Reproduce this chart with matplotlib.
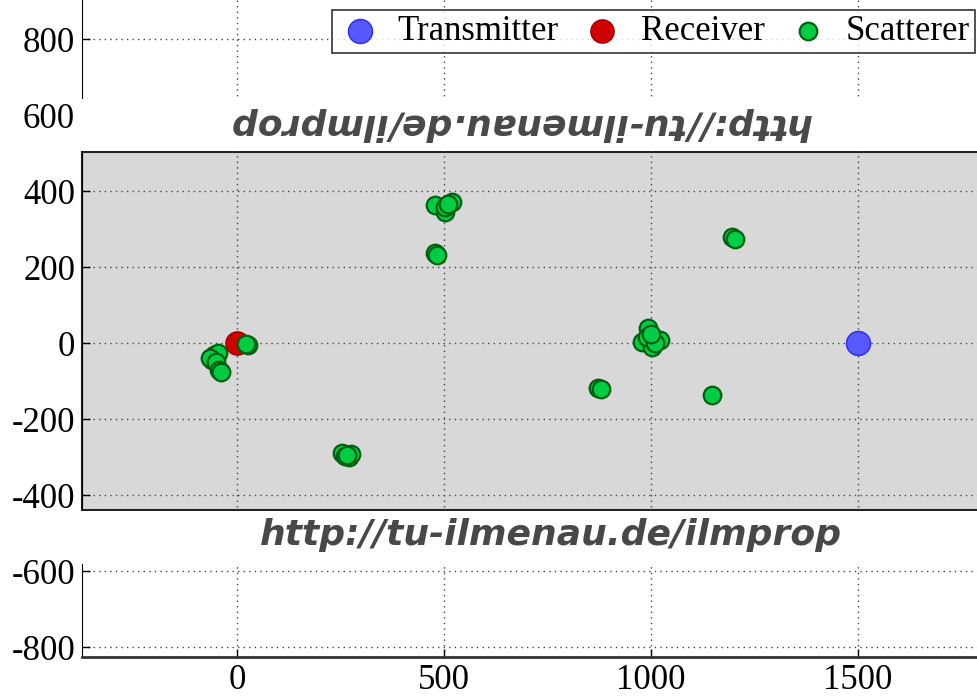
import numpy as np
import matplotlib.pyplot as plt
from matplotlib.patches import Rectangle

# positions of the antennas (m)
tx_x, tx_y = [1500], [0]
rx_x, rx_y = [0], [0]

# scatterer positions (m), clustered
sc_x = [-60, -55, -45, -65, -50, -42, -38, 28, 22,
        255, 270, 262, 275, 266,
        478, 484, 478, 519, 502, 502, 510,
        993, 978, 1022, 1002, 990, 1010, 1000,
        872, 880, 1147, 1196, 1202]
sc_y = [-45, -30, -25, -38, -50, -70, -76, -5, -3,
        -290, -300, -298, -292, -294,
        237, 233, 363, 371, 345, 358, 366,
        39, 3, 8, -10, 16, 0, 25,
        -118, -120, -137, 279, 274]

xticks = [0, 500, 1000, 1500]
yticks = [-800, -600, -400, -200, 0, 200, 400, 600, 800]
url = 'http://tu-ilmenau.de/ilmprop'

plt.rcParams['font.family'] = ['Liberation Serif', 'DejaVu Serif']
plt.rcParams['axes.unicode_minus'] = False

fig = plt.figure(figsize=(9.78, 7.0), dpi=100)
ax = fig.add_axes([82 / 978, 43 / 700, (978 - 82) / 978, 657 / 700])
ax.set_xlim(-374, 1790)
ax.set_ylim(-826, 903)

# grey band behind the data, framed in black
ax.add_patch(Rectangle((-374, -439), 2170, 942, facecolor='#d8d8d8',
                       edgecolor='#222222', linewidth=1.5, zorder=1, clip_on=False))
# white strips that carry the link text (cover the frame and grid)
for y0, y1 in [(503, 645), (-584, -439)]:
    ax.add_patch(Rectangle((-380, y0 + 2), 2200, y1 - y0 - 4, facecolor='white',
                           edgecolor='none', zorder=3, clip_on=False))

ax.text(684, 576, url, rotation=180, ha='center', va='center',
        fontsize=26, fontweight='bold', fontstyle='italic', color='#484848',
        family='DejaVu Sans', zorder=3.5)
ax.text(758, -505, url, ha='center', va='center',
        fontsize=26, fontweight='bold', fontstyle='italic', color='#484848',
        family='DejaVu Sans', zorder=3.5)

ax.scatter(tx_x, tx_y, s=300, c='#5858ff', edgecolors='#2a2aee', linewidths=1,
           label='Transmitter', zorder=5)
ax.scatter(rx_x, rx_y, s=280, c='#d00000', edgecolors='#990000', linewidths=1,
           label='Receiver', zorder=4)
ax.scatter(sc_x, sc_y, s=160, c='#00cc44', edgecolors='#006010', linewidths=1.6,
           label='Scatterer', zorder=5)

ax.set_xticks(xticks)
ax.set_yticks(yticks)
ax.grid(True, linestyle=(0, (1, 3)), color='#444444', linewidth=1)
ax.tick_params(direction='in', length=6, labelsize=25, width=1)
ax.tick_params(axis='x', pad=5)
ax.tick_params(axis='y', pad=5)
ax.spines['top'].set_visible(False)
ax.spines['right'].set_visible(False)
ax.spines['bottom'].set_color('#333333')
ax.spines['bottom'].set_linewidth(2)

leg = ax.legend(loc='upper right', bbox_to_anchor=(0.997, 0.985), ncol=3,
                fontsize=25, fancybox=False, frameon=True, borderaxespad=0,
                handletextpad=0.45, columnspacing=0.6, borderpad=0.15,
                handlelength=1.3)
leg.get_frame().set_edgecolor('black')
leg.get_frame().set_linewidth(1.2)
leg.set_zorder(10)

fig.savefig('out.png', dpi=100)
